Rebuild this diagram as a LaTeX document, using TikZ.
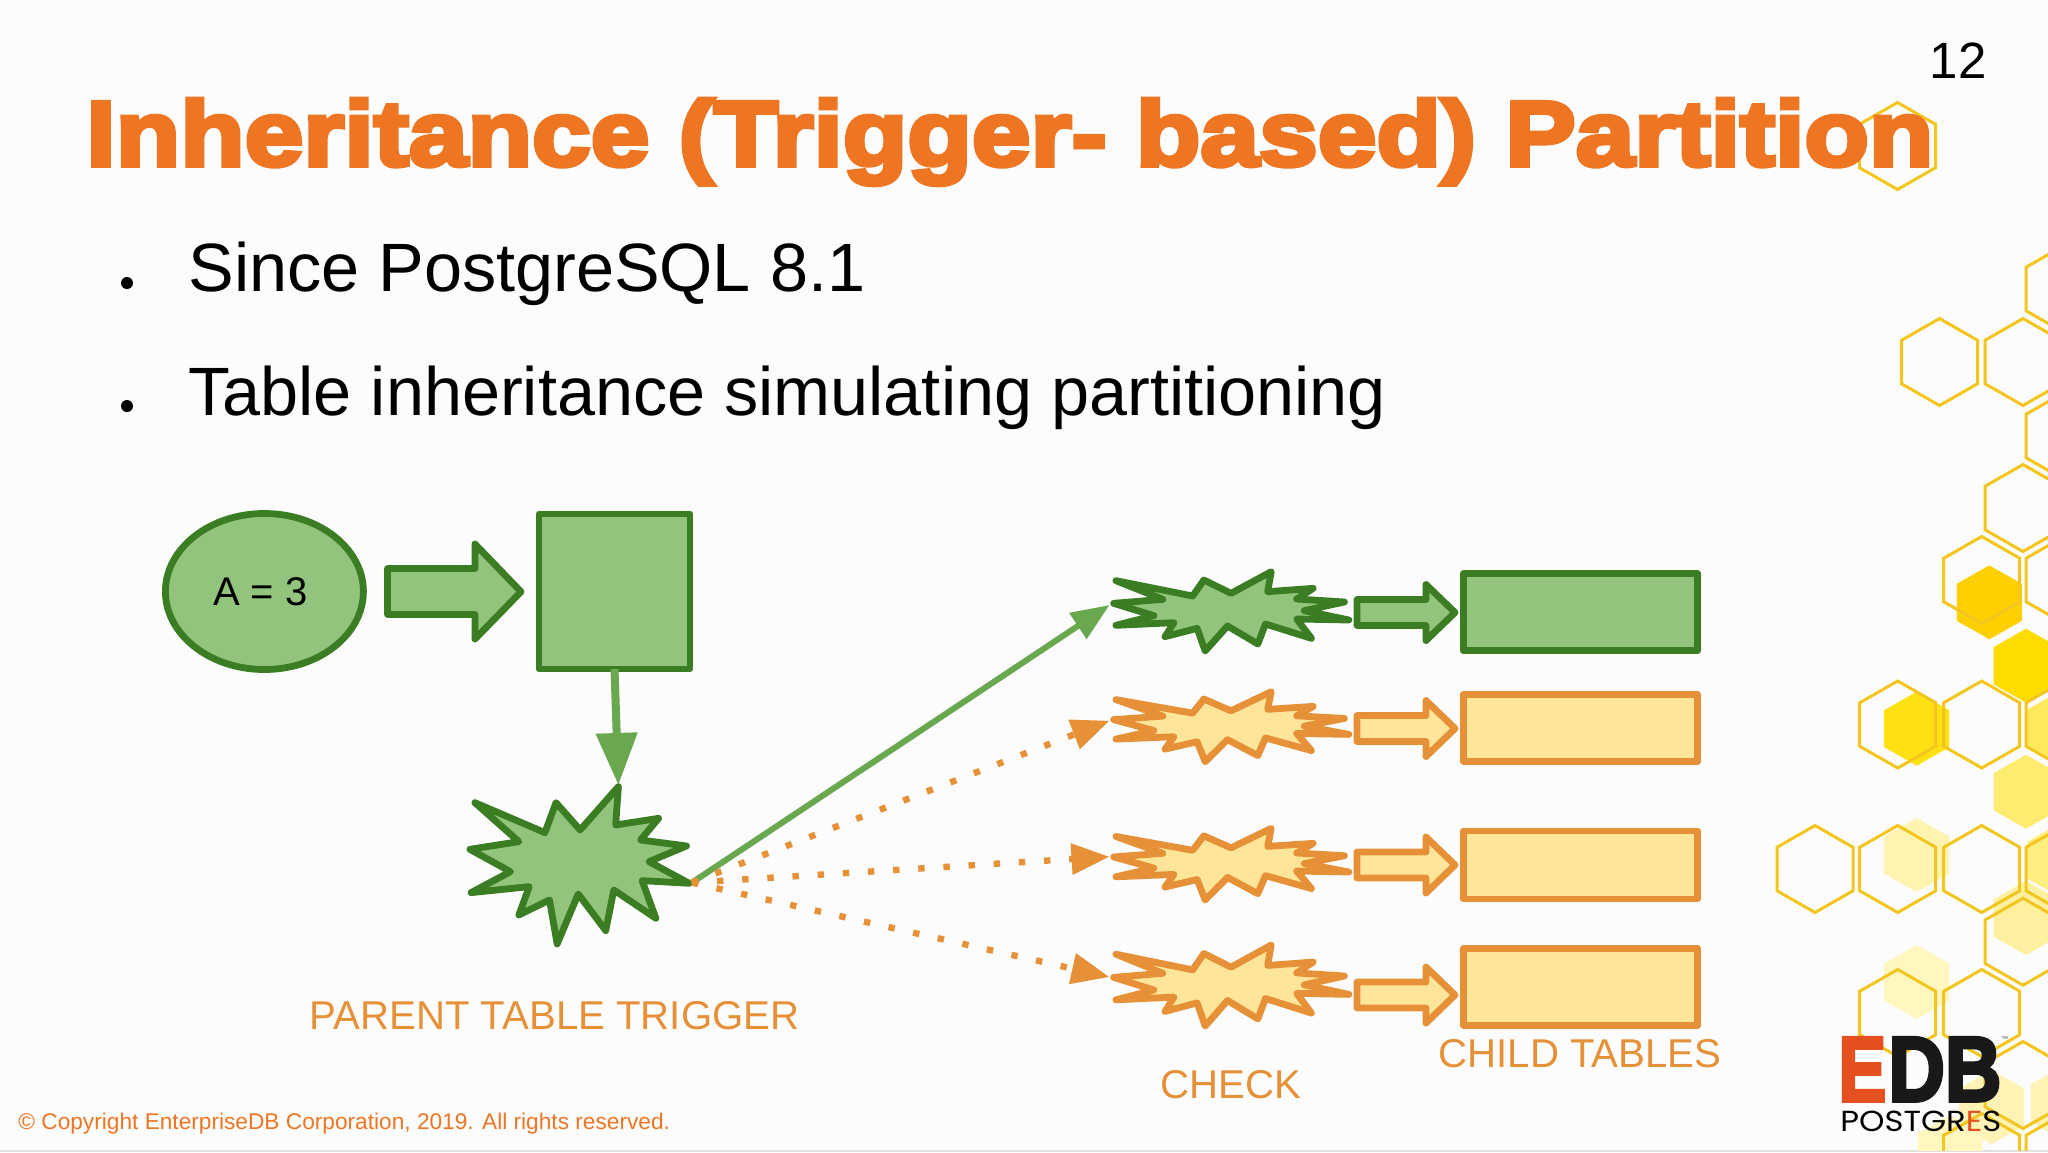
\documentclass[tikz,border=0pt]{standalone}
\usepackage{fontspec}
\usepackage{graphicx}
\usetikzlibrary{shapes.geometric,arrows.meta}
\setmainfont{Liberation Sans}
\newfontfamily\titlefont[FakeBold=5,FakeStretch=1.147]{Liberation Sans Bold}
\newfontfamily\logofont[FakeBold=4]{Liberation Sans Bold}
\newfontfamily\logosub{Poppins}
\definecolor{gstroke}{HTML}{3A7D22}
\definecolor{gfill}{HTML}{93C47D}
\definecolor{garrow}{HTML}{6AA84F}
\definecolor{ostroke}{HTML}{E69138}
\definecolor{ofill}{HTML}{FFE599}
\definecolor{titleor}{HTML}{EE7623}
\definecolor{hexline}{HTML}{F2C61F}
\definecolor{logored}{HTML}{E4501F}
\definecolor{hfa}{HTML}{FFCF00}
\definecolor{hfb}{HTML}{FFDC00}
\definecolor{hfc}{HTML}{FFE010}
\definecolor{hfd}{HTML}{FFE85A}
\definecolor{hfe}{HTML}{FFEB70}
\definecolor{hff}{HTML}{FFF3B0}
\definecolor{hfg}{HTML}{FFEE80}
\definecolor{hfh}{HTML}{FFF0A0}
\definecolor{hfi}{HTML}{FFF6C0}
\definecolor{hfj}{HTML}{FFF2B5}
\tikzset{
  hexo/.style={draw=hexline,line width=1.5pt,line join=miter},
  shp/.style={line width=3.4pt,line join=round},
  gshape/.style={shp,draw=gstroke,fill=gfill},
  oshape/.style={shp,draw=ostroke,fill=ofill},
  bodytext/.style={anchor=base west,inner sep=0pt,font=\fontsize{34.2}{40}\selectfont},
  labeltext/.style={anchor=base,inner sep=0pt,text=ostroke,font=\fontsize{20.1}{24}\selectfont},
  bulletdot/.style={circle,fill=black,inner sep=0pt,minimum size=6pt},
  solidlink/.style={draw=garrow,line width=3pt,-{Triangle[length=19pt,width=15pt]}},
  dotlink/.style={draw=ostroke,line width=3.2pt,dash pattern=on 3.2pt off 9.4pt,-{Triangle[length=19pt,width=15pt]}},
}
\newcommand{\hexat}[5]{% cx cy rx ry style
  \path[#5] (#1,#2-#4) -- (#1+#3,#2-#4/2) -- (#1+#3,#2+#4/2) -- (#1,#2+#4) -- (#1-#3,#2+#4/2) -- (#1-#3,#2-#4/2) -- cycle;}
\newcommand{\smallstar}[3]{% style y0 yscale
  \begin{scope}[shift={(1040,#2)},xscale=0.4464,yscale=#3]
  \path[#1] (170,92)--(342,138)--(367,90)--(428,130)--(518,65)--(510,125)--(612,115)--(575,147)--(682,156)--(592,182)--(692,210)--(575,207)--(608,265)--(505,222)--(488,282)--(420,228)--(370,303)--(352,235)--(280,260)--(300,218)--(170,226)--(255,197)--(165,160)--(275,148)--cycle;
  \end{scope}}
\newcommand{\smallarrow}[2]{% style cy
  \path[#1] (1357,#2-13)--(1426,#2-13)--(1426,#2-28)--(1455,#2)--(1426,#2+28)--(1426,#2+13)--(1357,#2+13)--cycle;}
\begin{document}
\begin{tikzpicture}[x=0.5pt,y=-0.5pt]
\useasboundingbox (0,0) rectangle (2048,1152);
\fill[white!99!black] (0,0) rectangle (2048,1152);
\fill[black!12] (0,1150) rectangle (2048,1152);
\begin{scope}
\clip (0,0) rectangle (2048,1150);
% filled hexagons
\hexat{1989.3}{602.3}{32.5}{37}{fill=hfa}
\hexat{2026}{665.7}{32.5}{37}{fill=hfb}
\hexat{1916.7}{728.7}{32.5}{37}{fill=hfc}
\hexat{2060}{728}{32.5}{37}{fill=hfd}
\hexat{2026}{791.7}{32.5}{37}{fill=hfe}
\hexat{1916.7}{855}{32.5}{37}{fill=hff}
\hexat{2060}{860}{32.5}{37}{fill=hfg}
\hexat{2026}{918}{32.5}{37}{fill=hfh}
\hexat{1916.7}{982}{32.5}{37}{fill=hfi}
\hexat{1991.7}{1107}{32.5}{37}{fill=hfj}
\hexat{2063}{1103}{32.5}{37}{fill=hfj}
\hexat{1950}{1152}{32.5}{37}{fill=hfi}
% outlined hexagons
\foreach \cx/\cy in {1897.5/146,1939.5/362,2023/362,2064/289,2064/436,2023/508,1981.7/580,2064/580,1897.7/724.5,1981.7/724.5,2064/724.5,1815/869,1897.7/869,1981.7/869,2064/869,2023/941.7,1897.7/1013,1981.7/1013,2023/1085,1981.7/1157,2064/1157}{
  \hexat{\cx}{\cy}{38}{43.5}{hexo}
}
\end{scope}
% title and text
\node[anchor=base west,inner sep=0pt,text=titleor,font=\titlefont\fontsize{46}{60}\selectfont] (title) at (86,165.5) {Inheritance (Trigger- based) Partition};
\node[anchor=base,inner sep=0pt,font=\fontsize{25.5}{30}\selectfont] (pageno) at (1958,78) {12};
\node[bulletdot] (b1) at (127,283) {};
\node[bodytext] (t1) at (188,291.7) {Since PostgreSQL 8.1};
\node[bulletdot] (b2) at (127,406) {};
\node[bodytext] (t2) at (188,415) {Table inheritance simulating partitioning};
% left part
\node[ellipse,gshape,minimum width=99pt,minimum height=78pt,inner sep=0pt,outer sep=0pt,font=\fontsize{20}{24}\selectfont] (val) at (264.4,591.5) {\raisebox{-0.5pt}{A = 3}\kern4pt};
\node[rectangle,gshape,minimum width=75.5pt,minimum height=77.5pt,inner sep=0pt,outer sep=0pt] (parent) at (614.5,591.5) {};
\path[gshape] (387.5,568.5)--(475,568.5)--(475,544)--(521,591.7)--(475,639)--(475,614.5)--(387.5,614.5)--cycle;
\begin{scope}[shift={(140,490)},xscale=0.3827,yscale=0.3333]
\path[gshape] (875,938)--(1058,1028)--(1087,938)--(1150,1020)--(1250,890)--(1243,1005)--(1355,985)--(1308,1050)--(1428,1068)--(1330,1115)--(1435,1180)--(1312,1172)--(1348,1285)--(1238,1200)--(1217,1322)--(1145,1212)--(1090,1362)--(1070,1230)--(990,1275)--(1017,1190)--(865,1208)--(968,1145)--(862,1078)--(990,1055)--cycle;
\coordinate (trigtop) at (1250,885);
\coordinate (trigout) at (1442,1178);
\end{scope}
\draw[draw=garrow,line width=4pt,-{Triangle[length=26pt,width=20pt]}] (parent.south) -- (trigtop);
% check stars
\smallstar{gshape}{550}{0.3333}
\smallstar{oshape}{672.5}{0.2946}
\smallstar{oshape}{808.7}{0.3013}
\smallstar{oshape}{922.9}{0.3403}
\coordinate (c1) at (1109.5,605);
\coordinate (c2) at (1109.5,720.7);
\coordinate (c3) at (1109.5,856.7);
\coordinate (c4) at (1109.5,977);
\draw[solidlink] (trigout) -- (c1);
\draw[dotlink] (trigout) -- (c2);
\draw[dotlink] (trigout) -- (c3);
\draw[dotlink] (trigout) -- (c4);
% child arrows and tables
\smallarrow{gshape}{612.5}
\smallarrow{oshape}{728.5}
\smallarrow{oshape}{865}
\smallarrow{oshape}{995}
\node[rectangle,gshape,minimum width=117pt,minimum height=38.5pt,inner sep=0pt,outer sep=0pt] (t1box) at (1580.5,612.3) {};
\node[rectangle,oshape,minimum width=117pt,minimum height=33.5pt,inner sep=0pt,outer sep=0pt] (t2box) at (1580.5,727.7) {};
\node[rectangle,oshape,minimum width=117pt,minimum height=34pt,inner sep=0pt,outer sep=0pt] (t3box) at (1580.5,865) {};
\node[rectangle,oshape,minimum width=117pt,minimum height=38.5pt,inner sep=0pt,outer sep=0pt] (t4box) at (1580.5,986.7) {};
% labels
\node[labeltext] (l1) at (554.5,1029) {PARENT TABLE TRIGGER};
\node[labeltext] (l2) at (1231,1098) {CHECK};
\node[labeltext] (l3) at (1580,1067.5) {CHILD TABLES};
\node[anchor=base west,inner sep=0pt,text=titleor,font=\fontsize{11.34}{14}\selectfont] (copy) at (18,1129) {© Copyright EnterpriseDB Corporation, 2019. All rights reserved.};
% logo
\node[anchor=base west,inner sep=0pt,text=logored,font=\logofont\fontsize{46}{50}\selectfont] (logoe) at (1838,1101) {\scalebox{0.78}[1]{E}};
\node[anchor=base west,inner sep=0pt,text=black!90,font=\logofont\fontsize{46}{50}\selectfont] (logodb) at (1888,1101) {\scalebox{0.85}[1]{DB}};
\node[anchor=base west,inner sep=0pt,text=black!70,font=\fontsize{3.5}{4}\selectfont] (logotm) at (2001,1041) {™};
\node[anchor=base west,inner sep=0pt,font=\logosub\fontsize{14.5}{16}\selectfont] (logosubt) at (1840,1131.7) {\scalebox{1.115}[1]{POSTGR\textcolor{logored}{E}S}};
\end{tikzpicture}
\end{document}
